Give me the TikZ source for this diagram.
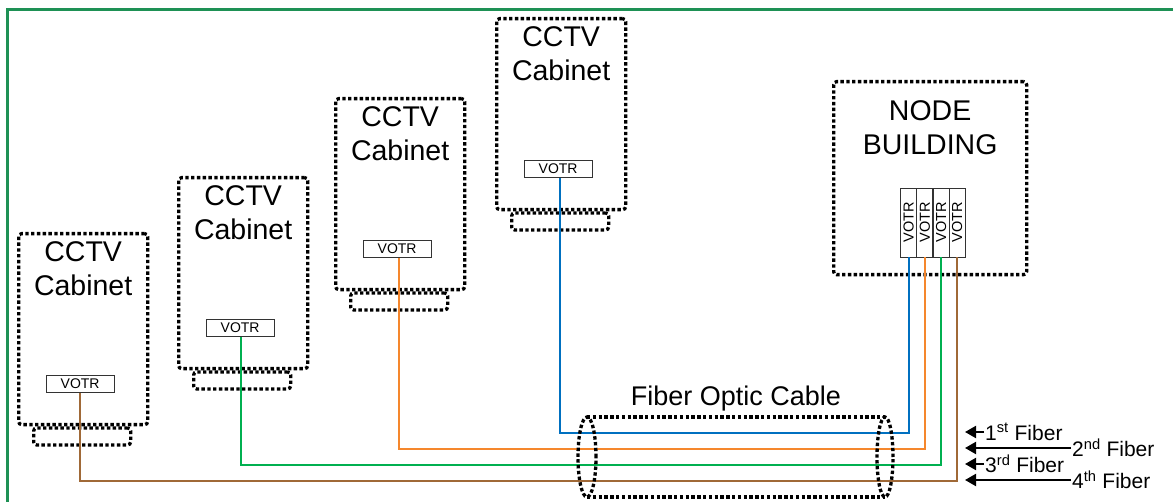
\documentclass[tikz,border=0pt]{standalone}
\usepackage{fontspec}
\setmainfont{Liberation Sans}
\usetikzlibrary{arrows.meta}
\definecolor{frameg}{RGB}{30,145,85}
\definecolor{fblue}{RGB}{0,112,192}
\definecolor{forange}{RGB}{245,135,45}
\definecolor{fgreen}{RGB}{0,176,80}
\definecolor{fbrown}{RGB}{160,105,55}
\tikzset{
  dotbox/.style={draw=black, line width=3.3pt, dash pattern=on 3.4pt off 2.4pt, rounded corners=3pt},
  cabinet/.style={dotbox, minimum width=129pt, minimum height=191pt, inner sep=0pt},
  cabbase/.style={dotbox, minimum width=97pt, minimum height=17pt, inner sep=0pt},
  bigtext/.style={font=\fontsize{28.5}{34}\selectfont, align=center, inner sep=0pt},
  votr/.style={draw=black!80, line width=0.8pt, fill=white, font=\fontsize{14}{14}\selectfont, minimum width=68pt, minimum height=17pt, inner sep=0pt},
  votrv/.style={draw=black!80, line width=0.8pt, fill=white, font=\fontsize{14.5}{14}\selectfont, minimum width=69pt, minimum height=16pt, inner sep=0pt, rotate=90},
  fiber/.style={line width=2pt},
  fiblabel/.style={font=\fontsize{21}{21}\selectfont, inner sep=1pt, anchor=west},
  fibarrow/.style={line width=2pt, -{Triangle[length=11pt,width=12pt]}},
}
\begin{document}
\begin{tikzpicture}[x=1pt,y=-1pt]
\useasboundingbox (0,0) rectangle (1173,502);
% frame
\draw[frameg, line width=2.6pt] (7.5,502) -- (7.5,9.5) -- (1173,9.5);
% cabinets
\foreach \i/\x/\y in {1/17/232, 2/177/176, 3/334/97, 4/495/17}{
  \node[cabinet, anchor=north west] (c\i) at (\x,\y) {};
  \node[cabbase, anchor=north] (b\i) at ([xshift=-1pt]c\i.south) {};
  \node[bigtext, anchor=north] (t\i) at ([yshift=-9pt]c\i.north) {CCTV\\Cabinet};
  \node[votr] (v\i) at ([xshift=-3pt,yshift=-152pt]c\i.north) {VOTR};
}
% node building
\node[dotbox, minimum width=193pt, minimum height=193pt, anchor=north west, inner sep=0pt] (nb) at (832,80) {};
\node[bigtext, anchor=north] (nbt) at ([yshift=-20pt]nb.north) {NODE\\BUILDING};
\foreach \i/\x in {1/908.5, 2/924.8, 3/941, 4/957}{
  \node[votrv] (n\i) at (\x,222.5) {VOTR};
}
% fibers
\coordinate (h1) at (700,433);
\coordinate (h2) at (700,449);
\coordinate (h3) at (700,464.5);
\coordinate (h4) at (700,480.5);
\draw[fiber, fblue] ([xshift=2pt]v4.south) |- (h1) -| (n1.west);
\draw[fiber, forange] ([xshift=2pt]v3.south) |- (h2) -| (n2.west);
\draw[fiber, fgreen] ([xshift=1pt]v2.south) |- (h3) -| (n3.west);
\draw[fiber, fbrown] (v1.south) |- (h4) -| (n4.west);
% cable
\draw[dotbox] (587,417) -- (885,417);
\draw[dotbox] (587,497) -- (885,497);
\draw[dotbox] (587,457) ellipse [x radius=9pt, y radius=40pt];
\draw[dotbox] (885,457) ellipse [x radius=8pt, y radius=40pt];
\node[font=\fontsize{27}{27}\selectfont, inner sep=0pt] (cab) at (736,399) {Fiber Optic Cable};
% fiber labels
\node[fiblabel] (f1) at (984,432) {1\textsuperscript{st} Fiber};
\node[fiblabel] (f2) at (1071,448) {2\textsuperscript{nd} Fiber};
\node[fiblabel] (f3) at (984,464) {3\textsuperscript{rd} Fiber};
\node[fiblabel] (f4) at (1071,480) {4\textsuperscript{th} Fiber};
\coordinate (a1) at (965,432);
\coordinate (a2) at (965,448);
\coordinate (a3) at (965,464);
\coordinate (a4) at (965,480);
\foreach \i in {1,2,3,4}{
  \draw[fibarrow] (f\i.west) -- (a\i);
}
\end{tikzpicture}
\end{document}
